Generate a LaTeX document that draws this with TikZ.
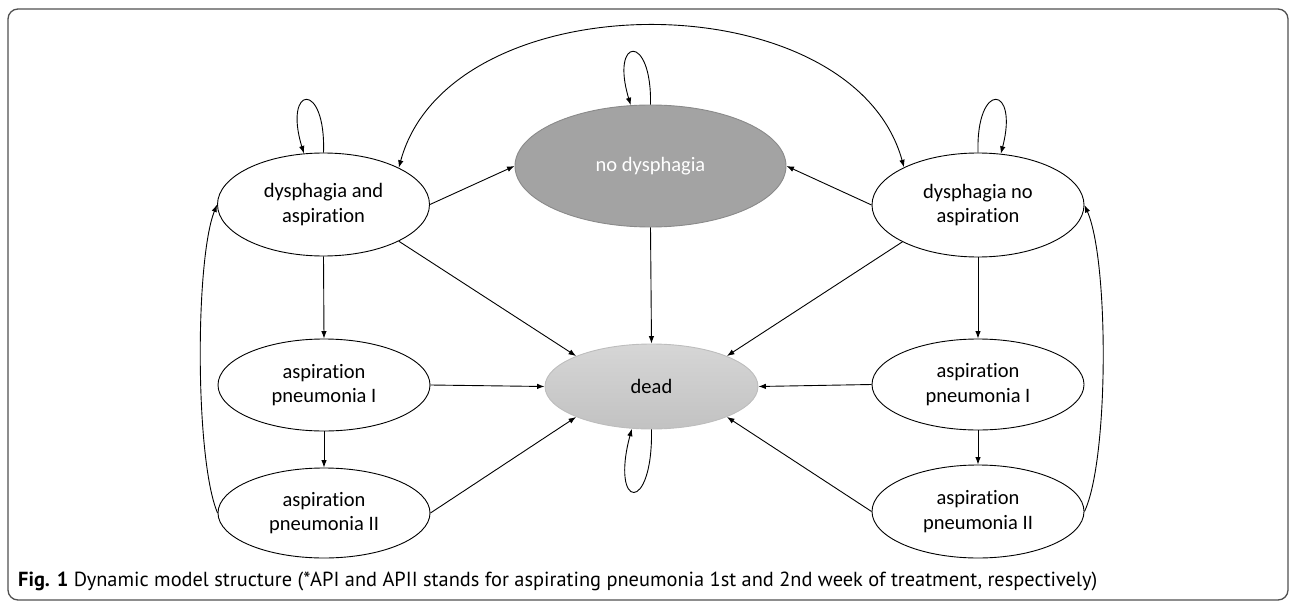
\documentclass[tikz,border=0pt]{standalone}
\usepackage{fontspec}
\setmainfont{Carlito}[Ligatures=NoCommon]
\newfontfamily\capfont{PT Sans}
\usetikzlibrary{shapes.geometric,arrows.meta}
\definecolor{ndfill}{HTML}{A3A3A3}
\definecolor{ndline}{HTML}{8A8A8A}
\definecolor{deadtop}{HTML}{D6D6D6}
\definecolor{deadbot}{HTML}{C2C2C2}
\definecolor{deadline}{HTML}{BDBDBD}
\definecolor{framec}{HTML}{505050}
\begin{document}
\begin{tikzpicture}[x=1pt,y=-1pt,
  st/.style={ellipse, draw=black, line width=0.9pt, inner sep=0pt, align=center,
    font=\fontsize{20.5}{24.5}\selectfont, text=black, minimum width=212pt},
  arr/.style={line width=0.9pt, -{Latex[length=7.5pt,width=5.5pt]}},
  darr/.style={line width=0.9pt, {Latex[length=7.5pt,width=5.5pt]}-{Latex[length=7.5pt,width=5.5pt]}},
]
\useasboundingbox (0,0) rectangle (1296,607);
\draw[rounded corners=10pt, draw=framec, line width=1.3pt] (8,9) rectangle (1288,600);

% nodes
\node[st, minimum height=103pt] (DA) at (323.5,204.5) {dysphagia and\\aspiration};
\node[st, minimum height=92pt] (APIL) at (324,385) {aspiration\\pneumonia I};
\node[st, minimum height=90pt] (APIIL) at (324,513) {aspiration\\pneumonia II};
\node[st, minimum height=104pt] (DNA) at (978,205) {dysphagia no\\aspiration};
\node[st, minimum height=91pt] (APIR) at (978,384.5) {aspiration\\pneumonia I};
\node[st, minimum height=93pt] (APIIR) at (978,511.5) {aspiration\\pneumonia II};
\node[st, draw=ndline, fill=ndfill, text=white, minimum width=271pt, minimum height=122pt] (ND) at (650.5,166) {no dysphagia};
\node[st, draw=deadline, top color=deadtop, bottom color=deadbot, minimum width=213pt, minimum height=85pt] (DEAD) at (651.5,386.5) {dead};

% straight transitions
\draw[arr] (DA.east) -- (ND.west);
\draw[arr] (DNA.west) -- (ND.east);
\draw[arr] (ND.south) -- (DEAD.north);
\draw[arr] (DA.-26.6) -- (DEAD.158);
\draw[arr] (DNA.206.6) -- (DEAD.22);
\draw[arr] (APIL.east) -- (DEAD.west);
\draw[arr] (APIR.west) -- (DEAD.east);
\draw[arr] (APIIL.east) -- (DEAD.202);
\draw[arr] (APIIR.west) -- (DEAD.338);
\draw[arr] (DA.south) -- (APIL.north);
\draw[arr] (APIL.south) -- (APIIL.north);
\draw[arr] (DNA.south) -- (APIR.north);
\draw[arr] (APIR.south) -- (APIIR.north);

% back transitions
\draw[arr] (APIIL.west) .. controls (195,460) and (195,260) .. (DA.west);
\draw[arr] (APIIR.east) .. controls (1109,460) and (1109,260) .. (DNA.east);

% big arc
\draw[darr] (DA.26.6) .. controls (450,-21) and (852,-21) .. (DNA.153.1);

% self loops
\draw[arr] (DA.north) .. controls (326,80) and (283,85) .. (DA.111.6);
\draw[arr] (ND.north) .. controls (652,32) and (610,37) .. (ND.108.3);
\draw[arr] (DNA.north) .. controls (976,80) and (1019,85) .. (DNA.66.6);
\draw[arr] (DEAD.south) .. controls (653,515) and (610,510) .. (DEAD.245);

% caption
\node[anchor=base west, inner sep=0pt] (cap) at (18,586)
  {\resizebox{1079pt}{!}{\capfont\fontsize{17}{20}\selectfont\textbf{Fig. 1} Dynamic model structure (*API and APII stands for aspirating pneumonia 1st and 2nd week of treatment, respectively)}};
\end{tikzpicture}
\end{document}
